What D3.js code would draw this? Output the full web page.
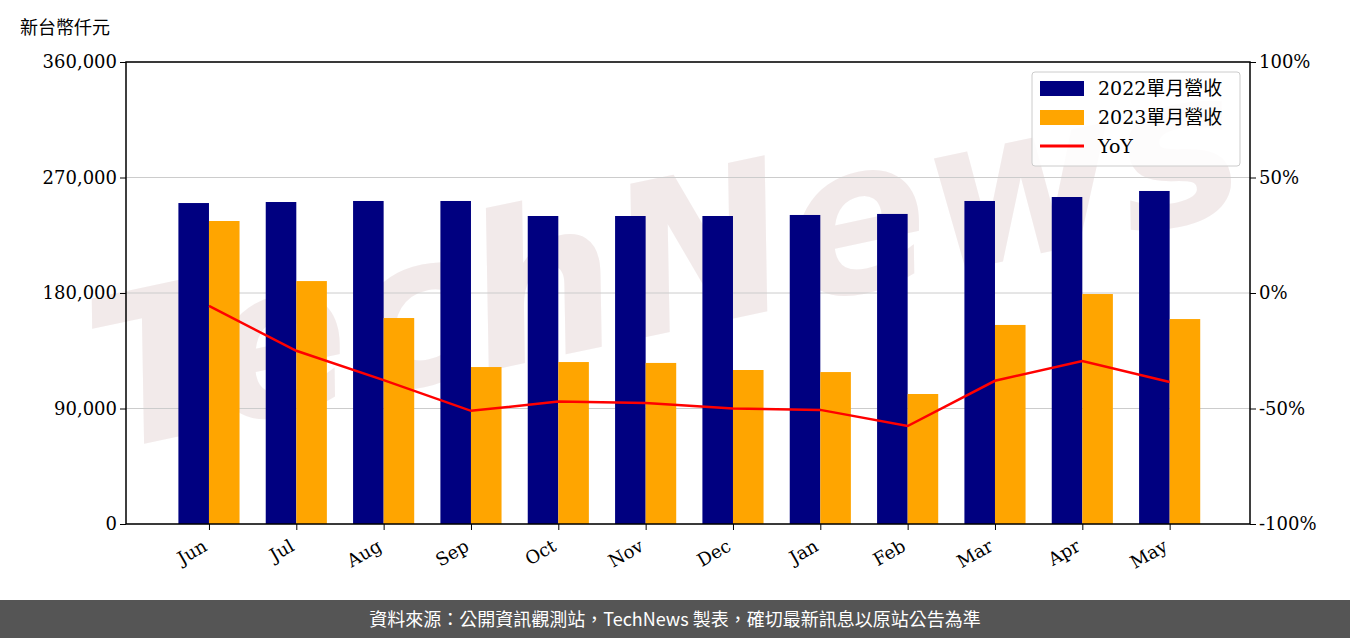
<!DOCTYPE html>
<html><head><meta charset="utf-8">
<script src="https://cdn.jsdelivr.net/npm/d3@7"></script>
<style>body{margin:0;background:#fff}</style>
</head><body>
<script>
const months = ["Jun","Jul","Aug","Sep","Oct","Nov","Dec","Jan","Feb","Mar","Apr","May"];
const rev2022 = [250100,250900,251700,251700,240000,240000,240000,240800,241600,251700,254800,259500];
const rev2023 = [236100,189300,160500,122300,126200,125500,120000,118400,101300,155100,179200,159700];
const yoy = [-5.6,-25,-37.7,-51,-47,-47.6,-50,-50.6,-57.6,-38,-29.4,-38.5];
const leftTicks = [0,90000,180000,270000,360000];
const rightTicks = [-100,-50,0,50,100];

const W = 1350, H = 638, L = 126, R = 1250, T = 62, B = 524;
const serif = "'DejaVu Serif', 'Noto Sans CJK TC', serif";
const svg = d3.select("body").append("svg").attr("width", W).attr("height", H);

const x = d3.scaleLinear().domain([-0.95, 11.92]).range([L, R]);
const y = d3.scaleLinear().domain([0, 360000]).range([B, T]);
const y2 = d3.scaleLinear().domain([-100, 100]).range([B, T]);
const bw = (x(1) - x(0)) * 0.35;

// watermark
svg.append("text").attr("x", 680).attr("y", 330).attr("text-anchor", "middle")
  .attr("transform", "rotate(-12,680,330)")
  .style("font", "italic bold 210px 'DejaVu Sans', sans-serif")
  .attr("fill", "#e6d6d6").attr("opacity", 0.5).text("TechNews");

// grid
svg.append("g").selectAll("line").data(leftTicks).join("line")
  .attr("x1", L).attr("x2", R).attr("y1", d => y(d)).attr("y2", d => y(d))
  .attr("stroke", "#ccc").attr("stroke-width", 1);

svg.append("g").selectAll("rect").data(rev2022).join("rect")
  .attr("x", (d, i) => x(i) - bw).attr("width", bw)
  .attr("y", d => y(d)).attr("height", d => B - y(d)).attr("fill", "#000080");
svg.append("g").selectAll("rect").data(rev2023).join("rect")
  .attr("x", (d, i) => x(i)).attr("width", bw)
  .attr("y", d => y(d)).attr("height", d => B - y(d)).attr("fill", "#ffa500");

svg.append("path").datum(yoy)
  .attr("d", d3.line().x((d, i) => x(i)).y(d => y2(d)))
  .attr("fill", "none").attr("stroke", "red").attr("stroke-width", 2.5);

const fmt = d3.format(",");
const ax = svg.append("g").attr("transform", `translate(${L},0)`)
  .call(d3.axisLeft(y).tickValues(leftTicks).tickFormat(fmt).tickSizeOuter(0));
const ax2 = svg.append("g").attr("transform", `translate(${R},0)`)
  .call(d3.axisRight(y2).tickValues(rightTicks).tickFormat(d => d + "%").tickSizeOuter(0));
const axb = svg.append("g").attr("transform", `translate(0,${B})`)
  .call(d3.axisBottom(x).tickValues(d3.range(12)).tickFormat(i => months[i]).tickSizeOuter(0));
[ax, ax2, axb].forEach(a => {
  a.selectAll("text").style("font", `18px ${serif}`).attr("fill", "#000");
  a.selectAll("line").attr("stroke", "#000");
  a.select(".domain").remove();
});
axb.selectAll("text").attr("text-anchor", "end").attr("x", 0).attr("y", 0).attr("dx", "0").attr("dy", "0.75em")
  .attr("transform", "translate(-8,14) rotate(-30)");

svg.append("rect").attr("x", L).attr("y", T).attr("width", R - L).attr("height", B - T)
  .attr("fill", "none").attr("stroke", "#000").attr("stroke-width", 1.5);

svg.append("text").attr("x", 20).attr("y", 34).style("font", `18px ${serif}`).text("新台幣仟元");

// legend
const lg = svg.append("g").attr("transform", "translate(1032,72)");
lg.append("rect").attr("width", 208).attr("height", 94).attr("rx", 3)
  .attr("fill", "#fff").attr("fill-opacity", 0.85).attr("stroke", "#ccc");
const items = [["2022單月營收", "#000080", "bar"], ["2023單月營收", "#ffa500", "bar"], ["YoY", "red", "line"]];
items.forEach((it, i) => {
  const gy = 16 + i * 29;
  if (it[2] === "bar") lg.append("rect").attr("x", 8).attr("y", gy - 7).attr("width", 44).attr("height", 15).attr("fill", it[1]);
  else lg.append("line").attr("x1", 8).attr("x2", 52).attr("y1", gy).attr("y2", gy).attr("stroke", it[1]).attr("stroke-width", 3);
  lg.append("text").attr("x", 66).attr("y", gy + 7).style("font", `19px ${serif}`).text(it[0]);
});

// footer
svg.append("rect").attr("x", 0).attr("y", 600).attr("width", W).attr("height", 38).attr("fill", "#555");
svg.append("text").attr("x", W / 2).attr("y", 626).attr("text-anchor", "middle")
  .style("font", "18px 'Noto Sans CJK TC', sans-serif").attr("fill", "#fff")
  .text("資料來源：公開資訊觀測站，TechNews 製表，確切最新訊息以原站公告為準");
</script>
</body></html>
